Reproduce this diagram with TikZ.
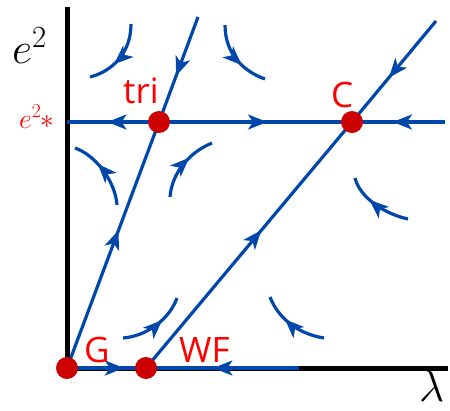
\RequirePackage{fix-cm}
\documentclass[tikz,border=0pt]{standalone}
\usepackage{fontspec}
\usepackage{xcolor}
\usepackage{tikz}
\usetikzlibrary{
    arrows.meta, decorations.markings, backgrounds
}
\newfontfamily\labelfont{Open Sans}
\definecolor{flowblue}{HTML}{0047AB}
\definecolor{fixred}{HTML}{CC0000}
\definecolor{labelred}{HTML}{FF0000}

\begin{document}
\begin{tikzpicture}[
    x=1pt, y=-1pt,
    >={Stealth[length=19pt, width=15pt, inset=5pt]},
    fixpt/.style={
        circle, fill=fixred,
        minimum size=22pt, inner sep=0pt,
    },
    flowline/.style={
        draw=flowblue, line width=3.2pt,
    },
    midarrow/.style={
        postaction={decorate, decoration={markings,
            mark=at position #1 with {\arrow{>}}}},
    },
    midarrow/.default=0.56,
    axisline/.style={
        draw=black, line width=5pt,
    },
    ptlabel/.style={
        text=labelred, inner sep=0pt, anchor=base west,
        font=\fontsize{35}{40}\selectfont\labelfont,
    },
    mathlabel/.style={
        inner sep=0pt, anchor=base west,
        font=\fontsize{44}{48}\selectfont,
    },
]
\useasboundingbox (0,0) rectangle (450,410);

% ── Fixed points ────────────────────────────────────────────────────────────
\node[fixpt] (G)   at (67,368)  {};
\node[fixpt] (WF)  at (146,368) {};
\node[fixpt] (tri) at (159,122) {};
\node[fixpt] (C)   at (352,122) {};

% ── Free ends of the separatrices and axes ─────────────────────────────────
\coordinate (yTop)      at (67,7);
\coordinate (xEnd)      at (448,368);
\coordinate (triTop)    at (198,17);
\coordinate (cTop)      at (436,21);
\coordinate (starLeft)  at (67,122);
\coordinate (starRight) at (445,122);
\coordinate (wfRight)   at (299,368);

% ── Labels ──────────────────────────────────────────────────────────────────
\node[mathlabel] (eAxis)   at (12,63)   {$e^2$};
\node[mathlabel] (lamAxis) at (419,401) {$\lambda$};
\node[mathlabel, text=labelred, font=\fontsize{28}{32}\selectfont] (eStar) at (19,128) {$e^{2}\mkern-1mu{*}$};
\node[ptlabel] (triLabel) at (123,103) {tri};
\node[ptlabel] (cLabel)   at (331,107) {C};
\node[ptlabel] (gLabel)   at (84,362)  {G};
\node[ptlabel] (wfLabel)  at (179,362) {WF};

\begin{scope}[on background layer]
    % axes
    \draw[axisline] (yTop) -- (G.center) -- (xEnd);
    % separatrices
    \draw[flowline, midarrow] (G.center) -- (tri.center);
    \draw[flowline, midarrow] (triTop) -- (tri.center);
    \draw[flowline, midarrow] (tri.center) -- (starLeft);
    \draw[flowline, midarrow] (tri.center) -- (C.center);
    \draw[flowline, midarrow] (starRight) -- (C.center);
    \draw[flowline, midarrow] (WF.center) -- (C.center);
    \draw[flowline, midarrow] (cTop) -- (C.center);
    \draw[flowline, midarrow=0.72] (G.center) -- (WF.center);
    \draw[flowline, midarrow] (wfRight) -- (WF.center);
\end{scope}

% ── Flow lines in the regions ───────────────────────────────────────────────
\draw[flowline, midarrow=0.62] (131,24) .. controls (131,55) and (110,72) .. (90,77);
\draw[flowline, midarrow=0.62] (225,25) .. controls (225,55) and (245,72) .. (265,79);
\draw[flowline, midarrow=0.62] (117,205) .. controls (115,180) and (95,155) .. (75,148);
\draw[flowline, midarrow=0.62] (170,197) .. controls (172,172) and (190,152) .. (212,143);
\draw[flowline, midarrow=0.62] (408,219) .. controls (385,214) and (360,198) .. (355,178);
\draw[flowline, midarrow=0.62] (123,338) .. controls (148,336) and (170,318) .. (177,298);
\draw[flowline, midarrow=0.62] (324,338) .. controls (298,334) and (278,318) .. (270,297);

\end{tikzpicture}
\end{document}
